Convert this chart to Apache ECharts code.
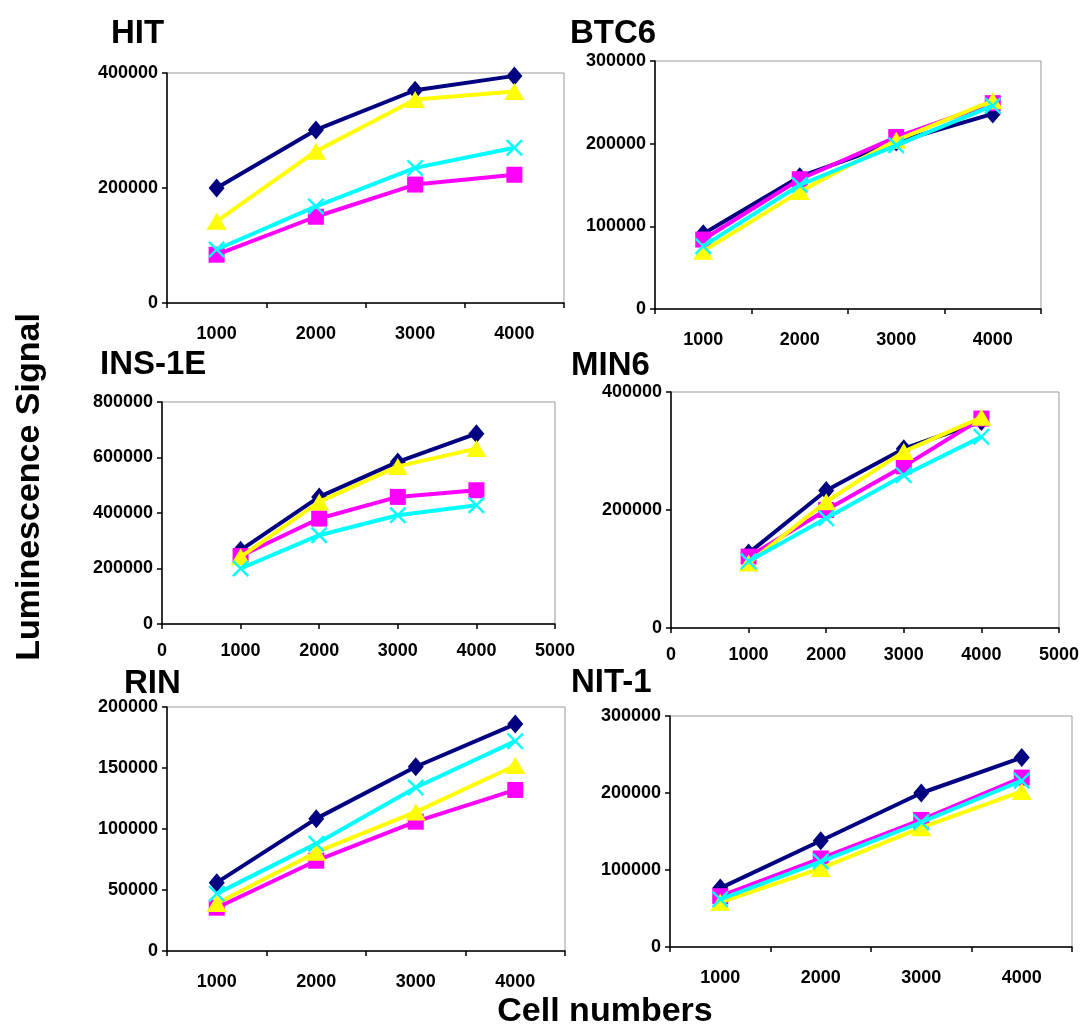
<!DOCTYPE html>
<html>
<head>
<meta charset="utf-8">
<script src="https://cdn.jsdelivr.net/npm/echarts@6/dist/echarts.min.js"></script>
<style>
  html, body { margin: 0; padding: 0; background: #fff; }
  #chart { width: 1082px; height: 1032px; }
</style>
</head>
<body>
<div id="chart"></div>
<script>
// cell numbers on the x axis
var cellNumbers = [1000, 2000, 3000, 4000];

// HIT
var hitNavy    = [200000, 301000, 370000, 395000];
var hitMagenta = [84000, 150000, 206000, 223000];
var hitYellow  = [142000, 264000, 354000, 368000];
var hitCyan    = [93000, 168000, 235000, 270000];

// BTC6
var btcNavy    = [91000, 160000, 202000, 236000];
var btcMagenta = [84000, 157000, 208000, 249000];
var btcYellow  = [70000, 142000, 204000, 252000];
var btcCyan    = [76000, 150000, 198000, 246000];

// INS-1E
var insNavy    = [266000, 458000, 584000, 686000];
var insMagenta = [245000, 380000, 458000, 482000];
var insYellow  = [242000, 440000, 568000, 632000];
var insCyan    = [200000, 320000, 392000, 428000];

// MIN6
var minNavy    = [127000, 233000, 304000, 350000];
var minMagenta = [121000, 200000, 274000, 355000];
var minYellow  = [110000, 214000, 299000, 357000];
var minCyan    = [113000, 186000, 259000, 324000];

// RIN
var rinNavy    = [56000, 108500, 151000, 186000];
var rinMagenta = [35500, 74000, 106000, 132000];
var rinYellow  = [39000, 81000, 114000, 152000];
var rinCyan    = [47000, 88000, 134000, 172000];

// NIT-1
var nitNavy    = [76500, 138000, 200000, 246000];
var nitMagenta = [66000, 115000, 165000, 220000];
var nitYellow  = [58000, 102000, 155000, 202000];
var nitCyan    = [62000, 111000, 162000, 216000];

var FONT = 'Liberation Sans, Arial, sans-serif';

// 面板位置（像素）
var panels = [
    { name: 'HIT',    grid: [167, 73, 397, 230],  yMax: 400000, yStep: 200000, xValue: false, data: [hitNavy, hitMagenta, hitYellow, hitCyan], title: [106, 12] },
    { name: 'BTC6',   grid: [655, 61, 386, 248],  yMax: 300000, yStep: 100000, xValue: false, data: [btcNavy, btcMagenta, btcYellow, btcCyan], title: [565, 12] },
    { name: 'INS-1E', grid: [162, 402, 393, 222], yMax: 800000, yStep: 200000, xValue: true,  data: [insNavy, insMagenta, insYellow, insCyan], title: [95, 343] },
    { name: 'MIN6',   grid: [671, 392, 390, 236], yMax: 400000, yStep: 200000, xValue: true,  data: [minNavy, minMagenta, minYellow, minCyan], title: [566, 344] },
    { name: 'RIN',    grid: [167, 707, 398, 244], yMax: 200000, yStep: 50000,  xValue: false, data: [rinNavy, rinMagenta, rinYellow, rinCyan], title: [119, 662] },
    { name: 'NIT-1',  grid: [670, 716, 402, 231], yMax: 300000, yStep: 100000, xValue: false, data: [nitNavy, nitMagenta, nitYellow, nitCyan], title: [566, 661] }
];

// 系列样式：颜色 + 标记
var crossPath = 'path://M0,1L1,0L5,4L9,0L10,1L6,5L10,9L9,10L5,6L1,10L0,9L4,5Z';
var looks = [
    { color: '#000080', symbol: 'diamond',  size: [16, 19] },
    { color: '#ff00ff', symbol: 'rect',     size: [16, 16] },
    { color: '#ffff00', symbol: 'triangle', size: [20, 17] },
    { color: '#00ffff', symbol: crossPath,  size: [17, 17] }
];

var labelStyle = {
    color: '#000', fontFamily: FONT, fontWeight: 'bold', fontSize: 18,
    formatter: function (v) { return String(v); }
};

var grids = [], xAxes = [], yAxes = [], series = [], titles = [];

panels.forEach(function (p, i) {
    grids.push({
        left: p.grid[0], top: p.grid[1], width: p.grid[2], height: p.grid[3],
        show: true, borderColor: '#999', borderWidth: 1, backgroundColor: '#fff'
    });

    var axisLine = { show: true, lineStyle: { color: '#000', width: 1.5 } };
    var axisTick = { show: true, length: 5, lineStyle: { color: '#000', width: 1.5 } };

    if (p.xValue) {
        xAxes.push({
            gridIndex: i, type: 'value', min: 0, max: 5000, interval: 1000,
            axisLine: axisLine, axisTick: axisTick, splitLine: { show: false },
            axisLabel: Object.assign({ margin: 18 }, labelStyle)
        });
    } else {
        xAxes.push({
            gridIndex: i, type: 'category', data: cellNumbers, boundaryGap: true,
            axisLine: axisLine, axisTick: Object.assign({ alignWithLabel: false, interval: 0 }, axisTick),
            splitLine: { show: false },
            axisLabel: Object.assign({ margin: 22, interval: 0 }, labelStyle)
        });
    }

    yAxes.push({
        gridIndex: i, type: 'value', min: 0, max: p.yMax, interval: p.yStep,
        axisLine: axisLine, axisTick: axisTick, splitLine: { show: false },
        axisLabel: Object.assign({ margin: 9 }, labelStyle)
    });

    p.data.forEach(function (vals, k) {
        var lk = looks[k];
        var d = p.xValue
            ? vals.map(function (v, j) { return [cellNumbers[j], v]; })
            : vals;
        series.push({
            type: 'line', xAxisIndex: i, yAxisIndex: i, data: d,
            symbol: lk.symbol, symbolSize: lk.size, showAllSymbol: true,
            lineStyle: { color: lk.color, width: 4 },
            itemStyle: { color: lk.color, borderColor: lk.color, borderWidth: 0 },
            z: 2 + k, animation: false, silent: true
        });
    });

    titles.push({
        text: p.name, left: p.title[0], top: p.title[1],
        textStyle: { color: '#000', fontFamily: FONT, fontWeight: 'bold', fontSize: 33 }
    });
});

var chart = echarts.init(document.getElementById('chart'), null, { renderer: 'canvas' });
chart.setOption({
    backgroundColor: '#fff',
    animation: false,
    title: titles,
    grid: grids,
    xAxis: xAxes,
    yAxis: yAxes,
    series: series,
    graphic: [
        {
            type: 'text', x: 30, y: 487, rotation: Math.PI / 2,
            style: { text: 'Luminescence Signal', fill: '#000', font: 'bold 34px ' + FONT, align: 'center', verticalAlign: 'middle' }
        },
        {
            type: 'text', x: 605, y: 1012,
            style: { text: 'Cell numbers', fill: '#000', font: 'bold 34px ' + FONT, align: 'center', verticalAlign: 'middle' }
        }
    ]
});
</script>
</body>
</html>
